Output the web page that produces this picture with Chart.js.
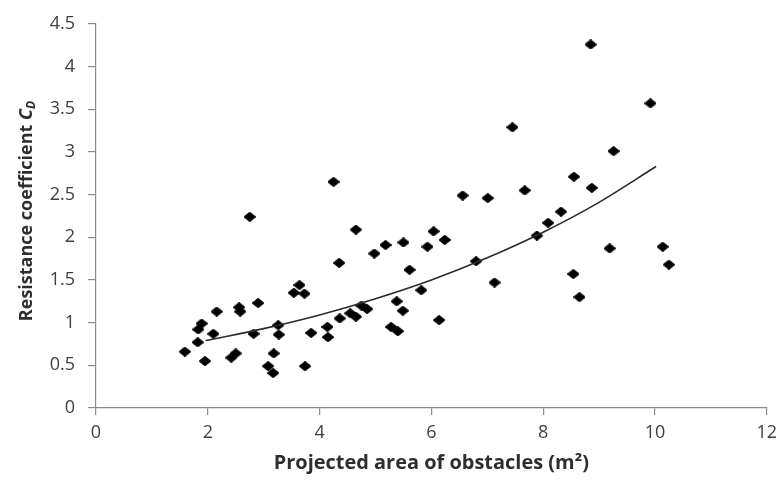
<!DOCTYPE html>
<html>
<head>
<meta charset="utf-8">
<script src="https://cdn.jsdelivr.net/npm/chart.js@4"></script>
<style>
  html, body { margin: 0; padding: 0; background: #fff; }
  #chart { display: block; }
</style>
</head>
<body>
<canvas id="chart" width="784" height="483"></canvas>
<script>
// Measured points: projected area (m²) vs resistance coefficient C_D
const areaX = [
  1.59, 1.82, 1.83, 1.89, 1.95, 2.10, 2.16, 2.42, 2.50, 2.56, 2.58,
  2.75, 2.82, 2.90, 3.08, 3.17, 3.18, 3.26, 3.27, 3.54, 3.64, 3.73,
  3.74, 3.85, 4.14, 4.15, 4.25, 4.36, 4.35, 4.55, 4.65, 4.65, 4.75,
  4.85, 4.98, 5.18, 5.28, 5.38, 5.40, 5.49, 5.50, 5.61, 5.82, 5.93,
  6.04, 6.14, 6.24, 6.56, 6.80, 7.01, 7.13, 7.45, 7.67, 7.89, 8.09,
  8.32, 8.54, 8.55, 8.65, 8.85, 8.87, 9.19, 9.26, 9.92, 10.14, 10.25
];
const cdY = [
  0.66, 0.77, 0.92, 0.99, 0.55, 0.87, 1.13, 0.59, 0.64, 1.18, 1.13,
  2.24, 0.87, 1.23, 0.49, 0.41, 0.64, 0.97, 0.86, 1.35, 1.44, 1.34,
  0.49, 0.88, 0.95, 0.83, 2.65, 1.05, 1.70, 1.11, 1.07, 2.09, 1.20,
  1.16, 1.81, 1.91, 0.95, 1.25, 0.90, 1.14, 1.94, 1.62, 1.38, 1.89,
  2.07, 1.03, 1.97, 2.49, 1.72, 2.46, 1.47, 3.29, 2.55, 2.02, 2.17,
  2.30, 1.57, 2.71, 1.30, 4.26, 2.58, 1.87, 3.01, 3.57, 1.89, 1.68
];

// Fitted trend line
const trendX = [1.96, 3, 4, 5, 6, 7, 8, 9, 10.02];
const trendY = [0.79, 0.93, 1.09, 1.28, 1.50, 1.76, 2.06, 2.41, 2.83];

const X_TITLE = 'Projected area of obstacles (m\u00B2)';
const Y_TITLE = 'Resistance coefficient ';

const FONT = '"Open Sans", Lato, sans-serif';
const AXIS_GRAY = '#8a8a8a';
const TEXT_GRAY = '#404040';

// slightly wide diamond marker, like the spreadsheet one
function makeMarker() {
  const c = document.createElement('canvas');
  c.width = 12;
  c.height = 10;
  const g = c.getContext('2d');
  g.fillStyle = '#000';
  g.strokeStyle = '#000';
  g.lineJoin = 'round';
  g.lineWidth = 2;
  g.beginPath();
  g.moveTo(6, 1);
  g.lineTo(11, 5);
  g.lineTo(6, 9);
  g.lineTo(1, 5);
  g.closePath();
  g.fill();
  g.stroke();
  return c;
}

// draws both axis titles (y needs an italic subscript C_D)
const axisTitles = {
  id: 'axisTitles',
  afterDraw(chart) {
    const { ctx, chartArea } = chart;
    ctx.save();
    ctx.fillStyle = '#2e2e2e';
    ctx.textBaseline = 'middle';

    // x title, the original is a little stretched sideways
    ctx.font = 'bold 19px ' + FONT;
    ctx.textAlign = 'center';
    ctx.save();
    ctx.translate((chartArea.left + chartArea.right) / 2, 464);
    ctx.scale(1.05, 1);
    ctx.fillText(X_TITLE, 0, 0);
    ctx.restore();

    ctx.translate(27, 211);
    ctx.rotate(-Math.PI / 2);
    ctx.textAlign = 'left';
    ctx.font = 'bold 18px ' + FONT;
    const w1 = ctx.measureText(Y_TITLE).width;
    ctx.font = 'bold italic 18px ' + FONT;
    const w2 = ctx.measureText('C').width;
    ctx.font = 'bold italic 12px ' + FONT;
    const w3 = ctx.measureText('D').width;
    let x = -(w1 + w2 + w3) / 2;
    ctx.font = 'bold 18px ' + FONT;
    ctx.fillText(Y_TITLE, x, 0);
    x += w1;
    ctx.font = 'bold italic 18px ' + FONT;
    ctx.fillText('C', x, 0);
    x += w2;
    ctx.font = 'bold italic 12px ' + FONT;
    ctx.fillText('D', x, 5);
    ctx.restore();
  }
};

const scatterData = areaX.map((x, i) => ({ x: x, y: cdY[i] }));
const trendData = trendX.map((x, i) => ({ x: x, y: trendY[i] }));

new Chart(document.getElementById('chart'), {
  type: 'scatter',
  data: {
    datasets: [
      {
        type: 'line',
        data: trendData,
        borderColor: '#2b2b2b',
        borderWidth: 1.6,
        pointRadius: 0,
        fill: false,
        cubicInterpolationMode: 'monotone'
      },
      {
        data: scatterData,
        pointStyle: makeMarker(),
        pointRadius: 5,
        backgroundColor: '#000',
        borderColor: '#000'
      }
    ]
  },
  options: {
    responsive: false,
    animation: false,
    layout: { padding: { top: 24, right: 16, left: 0, bottom: 0 } },
    plugins: {
      legend: { display: false },
      tooltip: { enabled: false }
    },
    scales: {
      x: {
        type: 'linear',
        min: 0,
        max: 12,
        afterFit: s => { s.height = 75; },
        border: { color: AXIS_GRAY, width: 1.2 },
        grid: { drawOnChartArea: false, color: AXIS_GRAY, lineWidth: 1.2, tickLength: 7 },
        ticks: {
          stepSize: 2,
          padding: 7,
          color: TEXT_GRAY,
          font: { family: FONT, size: 18 }
        }
      },
      y: {
        min: 0,
        max: 4.5,
        afterFit: s => { s.width = 96; },
        border: { color: AXIS_GRAY, width: 1.2 },
        grid: { drawOnChartArea: false, color: AXIS_GRAY, lineWidth: 1.2, tickLength: 8 },
        ticks: {
          stepSize: 0.5,
          padding: 13,
          color: TEXT_GRAY,
          font: { family: FONT, size: 18 },
          callback: v => String(+v.toFixed(1))
        }
      }
    }
  },
  plugins: [axisTitles]
});
</script>
</body>
</html>
